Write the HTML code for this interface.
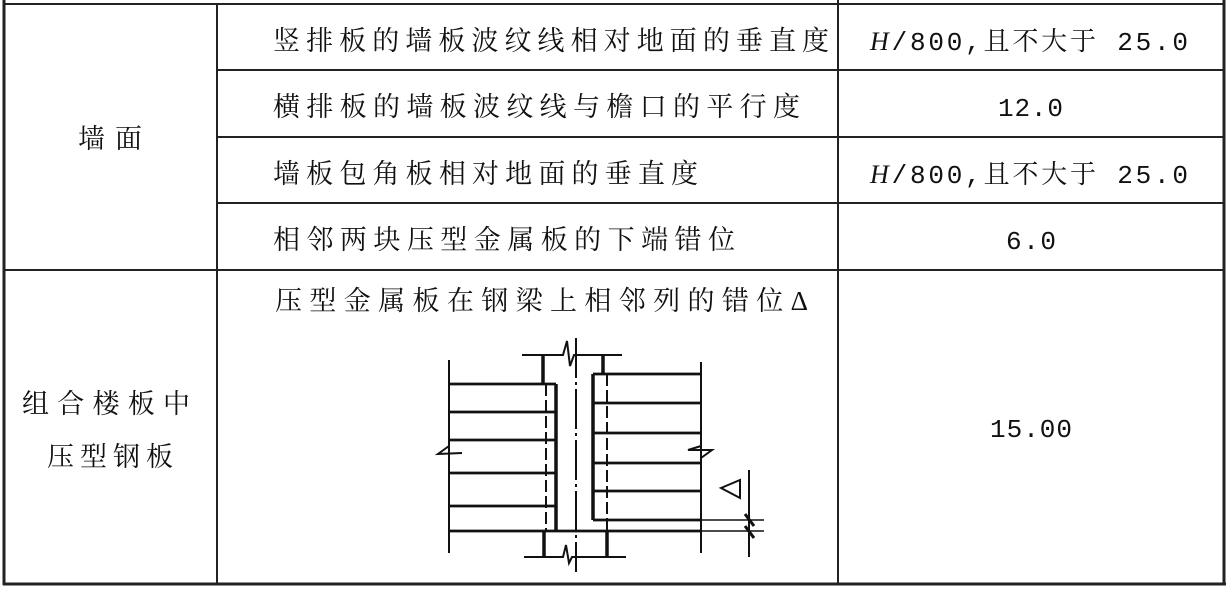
<!DOCTYPE html>
<html><head><meta charset="utf-8"><style>
html,body{margin:0;padding:0;background:#fff;}
svg{display:block}
text{font-family:"Liberation Serif","Noto Serif CJK SC",serif;font-size:27px;fill:#111;}
.m{font-family:"Liberation Mono","Noto Serif CJK SC",monospace;font-size:26px;}
</style></head><body>
<svg width="1229" height="605" viewBox="0 0 1229 605" xmlns="http://www.w3.org/2000/svg">
<g stroke="#222" fill="none">
<line x1="4" y1="4" x2="1225" y2="4" stroke-width="2"/>
<line x1="4" y1="0" x2="4" y2="585" stroke-width="3"/>
<line x1="1224" y1="0" x2="1224" y2="585" stroke-width="3"/>
<line x1="3" y1="584" x2="1226" y2="584" stroke-width="3"/>
<line x1="217" y1="4" x2="217" y2="584" stroke-width="2"/>
<line x1="838" y1="0" x2="838" y2="584" stroke-width="2"/>
<line x1="217" y1="70" x2="1224" y2="70" stroke-width="2"/>
<line x1="217" y1="137" x2="1224" y2="137" stroke-width="2"/>
<line x1="217" y1="203" x2="1224" y2="203" stroke-width="2"/>
<line x1="4" y1="270" x2="1224" y2="270" stroke-width="2"/>
</g>
<text x="273" y="50" textLength="556" lengthAdjust="spacing">竖排板的墙板波纹线相对地面的垂直度</text>
<text x="273" y="116" textLength="527" lengthAdjust="spacing">横排板的墙板波纹线与檐口的平行度</text>
<text x="273" y="183" textLength="425" lengthAdjust="spacing">墙板包角板相对地面的垂直度</text>
<text x="273" y="249" textLength="462" lengthAdjust="spacing">相邻两块压型金属板的下端错位</text>
<text x="275" y="310" textLength="533" lengthAdjust="spacing">压型金属板在钢梁上相邻列的错位Δ</text>
<text x="78" y="148" textLength="64" lengthAdjust="spacing">墙面</text>
<text x="22" y="413" textLength="168" lengthAdjust="spacing">组合楼板中</text>
<text y="466"><tspan x="47">压</tspan><tspan x="80">型</tspan><tspan x="113">钢</tspan><tspan x="146">板</tspan></text>
<text class="m" x="870" y="50" textLength="318" lengthAdjust="spacing"><tspan font-family="Liberation Serif" font-style="italic">H</tspan>/800,且不大于 25.0</text>
<text class="m" x="870" y="183" textLength="318" lengthAdjust="spacing"><tspan font-family="Liberation Serif" font-style="italic">H</tspan>/800,且不大于 25.0</text>
<text class="m" x="998" y="116" textLength="65" lengthAdjust="spacing">12.0</text>
<text class="m" x="1006" y="249" textLength="50" lengthAdjust="spacing">6.0</text>
<text class="m" x="990" y="437" textLength="82" lengthAdjust="spacing">15.00</text>
<g stroke="#111" fill="none" stroke-width="2.8">
<line x1="449" y1="360" x2="449" y2="553" stroke-width="2"/>
<line x1="449" y1="384" x2="556" y2="384"/>
<line x1="449" y1="412" x2="556" y2="412"/>
<line x1="449" y1="440" x2="556" y2="440"/>
<line x1="449" y1="473" x2="556" y2="473"/>
<line x1="449" y1="506" x2="556" y2="506"/>
<line x1="449" y1="531" x2="700" y2="531"/>
<line x1="556" y1="384" x2="556" y2="531" stroke-width="3.5"/>
<line x1="546" y1="384" x2="546" y2="531" stroke-dasharray="12,4" stroke-width="2"/>
<path d="M449 446 L438 454 L462 453" stroke-width="2"/>
<path d="M522 355 L563 355 L567 341 L570 366 L574 355 L622 355" stroke-width="2"/>
<line x1="543" y1="355" x2="543" y2="384" stroke-width="3.5"/>
<line x1="603" y1="355" x2="603" y2="374" stroke-width="3.5"/>
<line x1="576" y1="338" x2="576" y2="572" stroke-width="2" stroke-dasharray="40,4,3,4"/>
<line x1="593" y1="374" x2="593" y2="520" stroke-width="3.5"/>
<line x1="593" y1="374" x2="700" y2="374"/>
<line x1="593" y1="403" x2="700" y2="403"/>
<line x1="593" y1="433" x2="700" y2="433"/>
<line x1="593" y1="463" x2="700" y2="463"/>
<line x1="593" y1="491" x2="700" y2="491"/>
<line x1="593" y1="520" x2="700" y2="520"/>
<line x1="701" y1="362" x2="701" y2="553" stroke-width="2"/>
<path d="M701 446 L688 450 L712 450 L701 458" stroke-width="2"/>
<line x1="607" y1="374" x2="607" y2="553" stroke-dasharray="12,4" stroke-width="2"/>
<path d="M524 557 L563 557 L566 545 L569 563 L572 557 L626 557" stroke-width="2"/>
<line x1="544" y1="531" x2="544" y2="557" stroke-width="3.5"/>
<line x1="607" y1="531" x2="607" y2="557" stroke-width="3.5"/>
<line x1="749" y1="470" x2="749" y2="557" stroke-width="2"/>
<line x1="700" y1="520" x2="764" y2="520" stroke-width="1.5"/>
<line x1="700" y1="531" x2="764" y2="531" stroke-width="1.5"/>
<line x1="745" y1="514" x2="754" y2="526" stroke-width="3"/>
<line x1="745" y1="526" x2="754" y2="538" stroke-width="3"/>
<path d="M721 488 L740 480 L740 498 Z" stroke-width="2"/>
</g>
</svg>
</body></html>
